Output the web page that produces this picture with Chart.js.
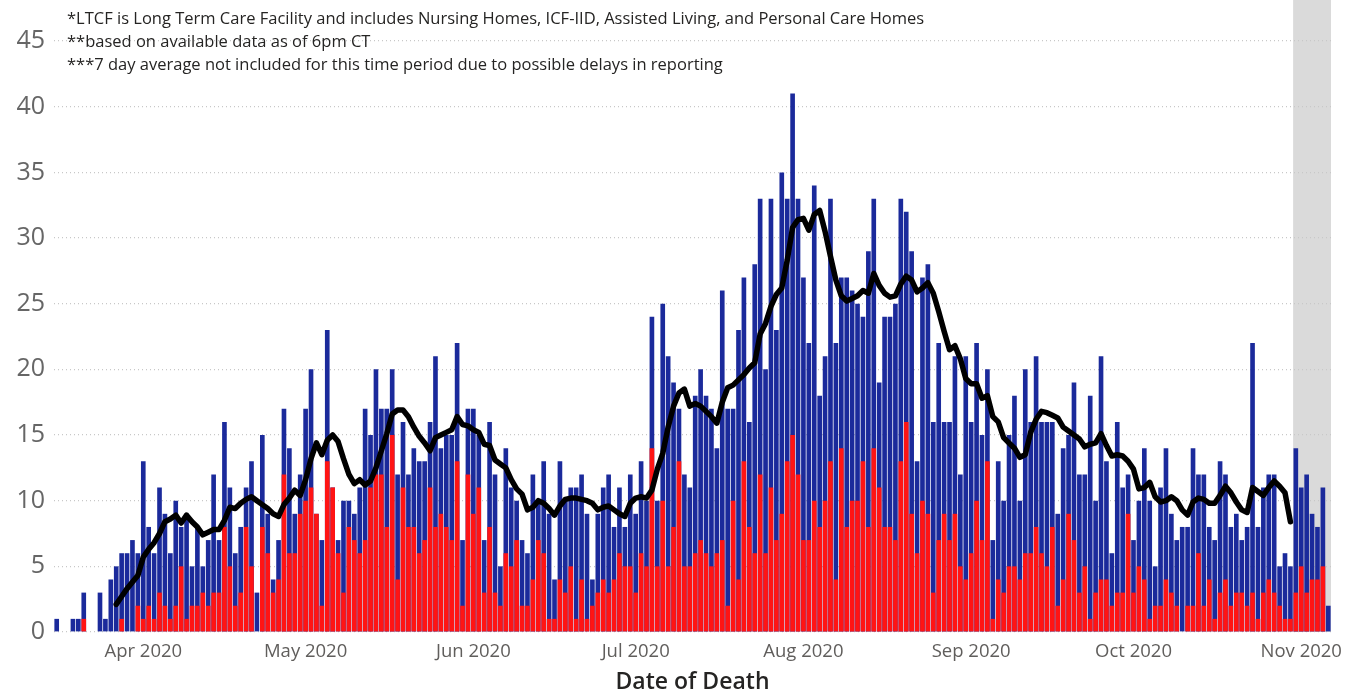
<!DOCTYPE html>
<html>
<head>
<meta charset="utf-8">
<script src="https://cdn.jsdelivr.net/npm/chart.js@4.4.1/dist/chart.umd.min.js"></script>
<style>
    html, body { margin: 0; padding: 0; background: #fff; }
    canvas { display: block; }
</style>
</head>
<body>
<canvas id="c" width="1360" height="694"></canvas>
<script>
/* ── Data (one value per day, starting 16 Mar 2020) ── */
const START = [2020, 2, 16];

const TOTAL = [
    1,0,0,1,1,3,0,0,3,1,4,5,6,6,7,6,13,8,6,11,
    9,6,10,8,9,5,8,5,7,12,7,16,11,6,8,11,13,3,15,9,
    4,7,17,14,9,12,17,20,9,7,23,11,7,10,10,9,11,17,15,20,
    17,17,20,12,16,12,14,13,13,16,21,14,15,15,22,7,17,17,15,7,
    16,12,5,14,11,10,7,6,12,10,13,9,4,13,10,11,11,12,9,4,
    9,11,12,8,11,8,12,9,13,10,24,10,25,21,19,17,12,11,18,20,
    18,17,14,26,17,17,23,27,16,28,33,20,33,23,35,33,41,33,27,22,
    34,18,21,33,22,27,27,26,25,24,29,33,19,24,24,25,33,32,29,13,
    27,28,16,22,16,16,21,12,21,16,22,15,20,7,13,10,15,18,10,20,
    16,21,16,16,16,9,14,15,19,12,12,18,10,21,13,6,16,11,12,7,
    10,14,10,5,11,14,9,7,8,8,14,12,12,8,7,13,12,8,9,7,
    8,22,8,11,12,12,5,6,5,14,11,12,9,8,11,2
];

const LTCF = [
    0,0,0,0,0,1,0,0,0,0,0,0,1,0,0,2,1,2,1,3,
    2,1,2,5,1,2,2,3,2,3,3,8,5,2,3,8,5,0,8,6,
    3,4,12,6,6,9,10,11,9,2,13,11,6,3,8,7,6,7,11,12,
    12,8,15,4,11,8,8,6,7,11,8,9,8,7,13,2,12,9,11,3,
    8,3,2,6,5,7,2,2,4,7,6,1,1,4,3,5,1,4,1,2,
    3,4,3,4,6,5,5,3,6,5,14,5,10,5,8,13,5,5,6,7,
    6,5,6,7,2,10,4,13,8,6,12,6,11,7,9,13,15,12,7,7,
    10,8,10,13,4,14,8,10,10,13,8,14,11,8,8,7,13,16,9,6,
    10,9,3,7,9,7,9,5,4,6,10,7,13,1,4,3,5,5,4,6,
    6,8,6,5,8,2,4,9,7,3,5,1,3,4,4,2,3,3,9,3,
    5,4,1,2,2,4,3,2,0,2,2,6,2,4,1,3,4,2,3,3,
    2,3,1,3,4,3,2,1,1,3,5,3,4,4,5,0
];

const AVG = [
    null,null,null,null,null,null,null,null,null,null,null,
    2.1,2.7,3.3,3.8,4.3,5.7,6.3,6.8,7.5,
    8.4,8.6,8.9,8.3,8.9,8.4,8.0,7.4,7.6,7.8,7.8,8.5,9.5,9.4,9.8,10.1,10.3,10.0,9.7,9.4,
    9.0,8.8,9.7,10.2,10.8,10.4,11.6,13.2,14.4,13.5,14.6,15.0,14.5,13.2,12.0,11.3,11.6,11.2,11.5,12.5,
    13.8,15.1,16.6,16.9,16.9,16.4,15.6,14.9,14.4,13.8,14.8,15.0,15.2,15.4,16.4,15.8,15.7,15.4,15.2,14.3,
    14.2,13.1,12.8,12.5,11.6,10.9,10.5,9.3,9.5,10.0,9.8,9.4,8.9,9.6,10.1,10.2,10.2,10.1,10.0,9.8,
    9.3,9.5,9.6,9.3,9.0,8.8,9.8,10.2,10.3,10.2,10.8,12.4,13.6,15.6,17.2,18.2,18.5,17.2,17.4,17.2,
    16.8,16.4,15.9,17.5,18.6,18.8,19.2,19.6,20.1,20.5,22.7,23.5,24.8,25.7,26.2,28.3,30.8,31.4,31.5,30.6,
    31.8,32.1,30.5,28.6,26.8,25.6,25.2,25.4,25.6,26.0,25.8,27.3,26.4,25.8,25.5,25.6,26.5,27.1,26.8,25.9,
    26.2,26.6,25.8,24.4,22.9,21.5,21.8,20.8,19.3,18.9,18.9,17.8,18.0,16.4,16.0,14.8,14.4,14.0,13.3,13.5,
    15.2,16.2,16.8,16.7,16.5,16.3,15.6,15.3,15.0,14.7,14.1,14.3,14.4,15.1,14.2,13.4,13.5,13.4,13.0,12.4,
    10.9,11.0,11.4,10.3,9.9,10.0,10.3,10.0,9.3,8.9,9.9,10.2,10.1,9.8,9.8,10.4,11.1,10.6,9.9,9.3,
    9.1,11.0,10.7,10.4,11.0,11.5,11.1,10.6,8.4,
    null,null,null,null,null,null,null
];

const Y_TICKS = [0, 5, 10, 15, 20, 25, 30, 35, 40, 45];

const MONTH_DATES  = ['2020-04-01','2020-05-01','2020-06-01','2020-07-01','2020-08-01','2020-09-01','2020-10-01','2020-11-01'];
const MONTH_LABELS = ['Apr 2020','May 2020','Jun 2020','Jul 2020','Aug 2020','Sep 2020','Oct 2020','Nov 2020'];

// period without a 7 day average (shaded)
const NO_AVG_FROM = '2020-10-31';
const NO_AVG_TO   = '2020-11-06';

const NOTES = [
    '*LTCF is Long Term Care Facility and includes Nursing Homes, ICF-IID, Assisted Living, and Personal Care Homes',
    '**based on available data as of 6pm CT',
    '***7 day average not included for this time period due to possible delays in reporting'
];

const BLUE = '#1b2a9b';
const RED  = '#ff1414';
const FONT = '"Segoe UI", "Open Sans", sans-serif';

/* ── Dates ── */
const pad = n => String(n).padStart(2, '0');
const DAYS = TOTAL.map((_, i) => {
    const d = new Date(START[0], START[1], START[2] + i);
    return d.getFullYear() + '-' + pad(d.getMonth() + 1) + '-' + pad(d.getDate());
});

/* ── Plugins ── */
const shadePlugin = {
    id: 'shade',
    beforeDraw(chart) {
        const { ctx, chartArea, scales: { x } } = chart;
        const a = x.getPixelForValue(DAYS.indexOf(NO_AVG_FROM) - 0.5);
        const b = x.getPixelForValue(DAYS.indexOf(NO_AVG_TO) + 0.5);
        ctx.save();
        ctx.fillStyle = '#dadada';
        ctx.fillRect(a, 0, b - a, chartArea.bottom);
        ctx.restore();
    }
};

const notesPlugin = {
    id: 'notes',
    afterDraw(chart) {
        const ctx = chart.ctx;
        ctx.save();
        ctx.fillStyle = '#252423';
        ctx.font = '16.5px ' + FONT;
        ctx.textBaseline = 'alphabetic';
        NOTES.forEach((t, i) => ctx.fillText(t, 67, 24 + i * 23));
        ctx.restore();
    }
};

/* ── Chart ── */
new Chart(document.getElementById('c'), {
    type: 'bar',
    data: {
        labels: DAYS,
        datasets: [
            {
                type: 'line',
                label: '7 Day Average',
                data: AVG,
                borderColor: '#000',
                borderWidth: 5.5,
                borderJoinStyle: 'round',
                borderCapStyle: 'round',
                pointRadius: 0,
                fill: false,
                spanGaps: false,
                order: 0
            },
            { label: 'LTCF',  data: LTCF,  backgroundColor: RED,  barPercentage: 0.86, categoryPercentage: 1, order: 1 },
            { label: 'Total', data: TOTAL, backgroundColor: BLUE, barPercentage: 0.86, categoryPercentage: 1, order: 2 }
        ]
    },
    options: {
        responsive: false,
        animation: false,
        devicePixelRatio: 1,
        layout: { padding: { top: 0, right: 29, left: 0, bottom: 0 } },
        plugins: { legend: { display: false }, tooltip: { enabled: false } },
        scales: {
            x: {
                stacked: true,
                grid: { display: false, drawTicks: false },
                border: { display: false },
                ticks: {
                    autoSkip: false, maxRotation: 0, padding: 9,
                    color: '#605e5c', font: { family: FONT, size: 18.5 },
                    callback: (v, i) => {
                        const k = MONTH_DATES.indexOf(DAYS[i]);
                        return k >= 0 ? MONTH_LABELS[k] : '';
                    }
                },
                title: { display: true, text: 'Date of Death', color: '#252423', padding: 0,
                         font: { family: FONT, size: 23, weight: '600', lineHeight: 1 } },
                afterFit: s => { s.height = 62; }
            },
            y: {
                min: 0, max: 46.3,
                grid: { color: '#c8c8c8', lineWidth: 1.2, drawTicks: false },
                border: { display: false, dash: [1, 3] },
                ticks: { padding: 9, color: '#666', font: { family: FONT, size: 25 } },
                afterBuildTicks: s => { s.ticks = Y_TICKS.map(v => ({ value: v })); },
                afterFit: s => { s.width = 54; }
            }
        }
    },
    plugins: [shadePlugin, notesPlugin]
});
</script>
</body>
</html>
